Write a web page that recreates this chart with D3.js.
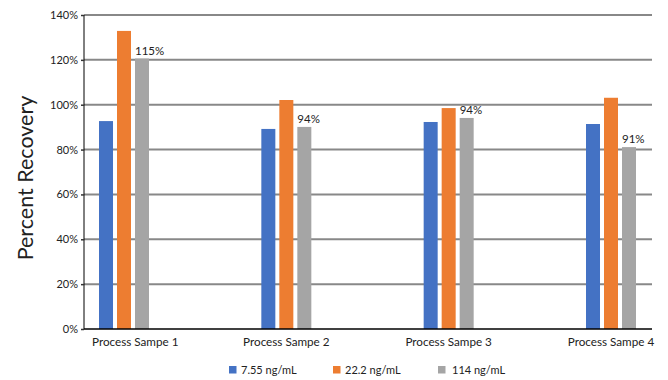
<!DOCTYPE html>
<html><head><meta charset="utf-8">
<script src="https://cdn.jsdelivr.net/npm/d3@7"></script>
<style>body{margin:0;background:#fff}svg{display:block}text{font-family:Lato,"Open Sans",sans-serif;fill:#222}</style>
</head><body><svg id="c" width="668" height="380"></svg>
<script>
const categories = ["Process Sampe 1","Process Sampe 2","Process Sampe 3","Process Sampe 4"];
const series = ["7.55 ng/mL","22.2 ng/mL","114 ng/mL"];
const low = [92.7, 89.2, 92.3, 91.4];
const mid = [132.9, 102.1, 98.5, 103.1];
const high = [120.6, 90.1, 94.1, 81.1];
const highLabels = ["115%","94%","94%","91%"];
const yTicks = [0,20,40,60,80,100,120,140];
const colors = ["#4472C4","#ED7D31","#A5A5A5"];
const values = [low, mid, high];

const svg = d3.select("#c");
const mLeft = 84, mRight = 652, mTop = 15, mBottom = 329;
const y = d3.scaleLinear().domain([0,140]).range([mBottom, mTop]);
const x = d3.scalePoint().domain(categories).range([124, 611]);
const xs = d3.scaleBand().domain(series).range([-25, 25]).paddingInner(0.222);

// gridlines
svg.append("g").selectAll("line").data(yTicks.filter(t=>t>0)).join("line")
  .attr("x1", mLeft).attr("x2", mRight).attr("y1", d=>y(d)).attr("y2", d=>y(d))
  .attr("stroke", "#888").attr("stroke-width", 2);

// y axis
const ya = svg.append("g").attr("transform", `translate(${mLeft},0)`)
  .call(d3.axisLeft(y).tickValues(yTicks).tickFormat(d=>d+"%").tickSize(3).tickPadding(3));
ya.select(".domain").attr("stroke", "#000").attr("d", `M0,${mBottom}V${mTop}`);
ya.selectAll(".tick line").attr("stroke", "#333").attr("stroke-width", 1.5);
ya.selectAll(".tick text").attr("font-family", "Lato").attr("font-size", 11).attr("fill", "#222");

// bars
categories.forEach((c, i) => {
  series.forEach((s, j) => {
    svg.append("rect")
      .attr("x", x(c) + xs(s)).attr("width", xs.bandwidth())
      .attr("y", y(values[j][i])).attr("height", y(0) - y(values[j][i]))
      .attr("fill", colors[j]);
  });
  svg.append("text")
    .attr("x", x(c) + xs(series[2])).attr("y", y(high[i]) - 4)
    .attr("font-size", 11.5).text(highLabels[i]);
});

// x axis line
svg.append("line").attr("x1", mLeft).attr("x2", mRight).attr("y1", mBottom).attr("y2", mBottom)
  .attr("stroke", "#000").attr("stroke-width", 1.5);

// category labels
svg.append("g").selectAll("text").data(categories).join("text")
  .attr("x", (d,i) => i === 0 ? mLeft + 8 : x(d))
  .attr("text-anchor", (d,i) => i === 0 ? "start" : "middle")
  .attr("y", 346).attr("font-size", 11.7).text(d=>d);

// y title
svg.append("text").attr("transform", "translate(33,178) rotate(-90)")
  .attr("text-anchor", "middle").attr("font-size", 21.5).text("Percent Recovery");

// legend
const legX = [229, 333, 438];
const lg = svg.append("g").selectAll("g").data(series).join("g")
  .attr("transform", (d,i) => `translate(${legX[i]},366)`);
lg.append("rect").attr("width", 7.5).attr("height", 7.5).attr("fill", (d,i)=>colors[i]);
lg.append("text").attr("x", (d,i)=> i===2 ? 14 : 12).attr("y", 7.5).attr("font-size", 11).text(d=>d);
</script></body></html>
